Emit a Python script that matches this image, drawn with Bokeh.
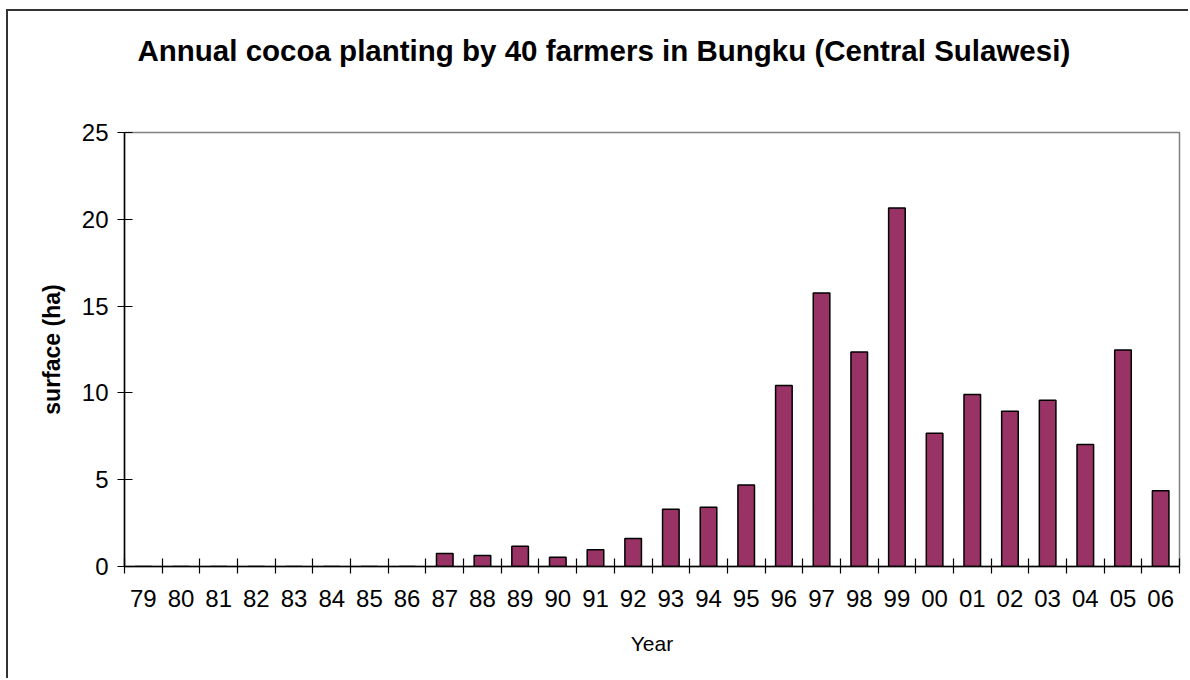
from bokeh.plotting import figure
from bokeh.models import Range1d, FixedTicker, Title
from bokeh.embed import file_html
from bokeh.resources import INLINE

years = ["79", "80", "81", "82", "83", "84", "85", "86", "87", "88", "89", "90", "91", "92",
         "93", "94", "95", "96", "97", "98", "99", "00", "01", "02", "03", "04", "05", "06"]
surface = [0, 0, 0, 0, 0, 0, 0, 0, 0.75, 0.63, 1.17, 0.54, 0.96, 1.61,
           3.30, 3.41, 4.70, 10.42, 15.75, 12.36, 20.65, 7.67, 9.91, 8.95, 9.58, 7.03, 12.47, 4.37]
y_ticks = [0, 5, 10, 15, 20, 25]

FONT = "Liberation Sans"
n = len(years)
centers = [i + 0.5 for i in range(n)]

p = figure(width=1182, height=669, output_backend="svg", toolbar_location=None,
           x_range=Range1d(0, n), y_range=Range1d(0, 25),
           min_border_left=116, min_border_right=11, min_border_top=120, min_border_bottom=114)
p.styles = {"border-left": "2px solid #333333", "border-top": "2px solid #333333",
            "margin-left": "6px", "margin-top": "9px"}

p.vbar(x=centers, top=surface, width=0.44, fill_color="#993366",
       line_color="black", line_width=1.5)

# spacer between frame and title
p.add_layout(Title(text=" ", text_font_size="1px", standoff=43), "above")

p.title.text = "Annual cocoa planting by 40 farmers in Bungku (Central Sulawesi)"
p.title.text_font = FONT
p.title.text_font_size = "29.5px"
p.title.text_font_style = "bold"
p.title.text_color = "black"
p.title.align = "left"
p.title.offset = 13
p.title.standoff = 40

p.grid.visible = False
p.outline_line_color = "#808080"
p.outline_line_width = 1.5
p.background_fill_color = "white"
p.border_fill_color = "white"

xa = p.xaxis[0]
xa.ticker = FixedTicker(ticks=centers, minor_ticks=list(range(n + 1)))
xa.major_label_overrides = {c: y for c, y in zip(centers, years)}
xa.major_tick_line_color = None
xa.minor_tick_in = 8
xa.minor_tick_out = 7
xa.minor_tick_line_color = "black"
xa.minor_tick_line_width = 1.2
xa.axis_line_color = "black"
xa.axis_line_width = 1.5
xa.major_label_text_font = FONT
xa.major_label_text_font_size = "24px"
xa.major_label_text_color = "black"
xa.major_label_standoff = 16
xa.axis_label = "Year"
xa.axis_label_text_font = FONT
xa.axis_label_text_font_size = "21px"
xa.axis_label_text_font_style = "normal"
xa.axis_label_text_color = "black"
xa.axis_label_standoff = 22

ya = p.yaxis[0]
ya.ticker = FixedTicker(ticks=y_ticks, minor_ticks=[])
ya.major_tick_in = 8
ya.major_tick_out = 7
ya.major_tick_line_color = "black"
ya.major_tick_line_width = 1.2
ya.axis_line_color = "black"
ya.axis_line_width = 1.5
ya.major_label_text_font = FONT
ya.major_label_text_font_size = "24px"
ya.major_label_text_color = "black"
ya.major_label_standoff = 9
ya.axis_label = "surface (ha)"
ya.axis_label_text_font = FONT
ya.axis_label_text_font_size = "23px"
ya.axis_label_text_font_style = "bold"
ya.axis_label_text_color = "black"
ya.axis_label_standoff = 14

open("out.html", "w").write(file_html(p, INLINE))
